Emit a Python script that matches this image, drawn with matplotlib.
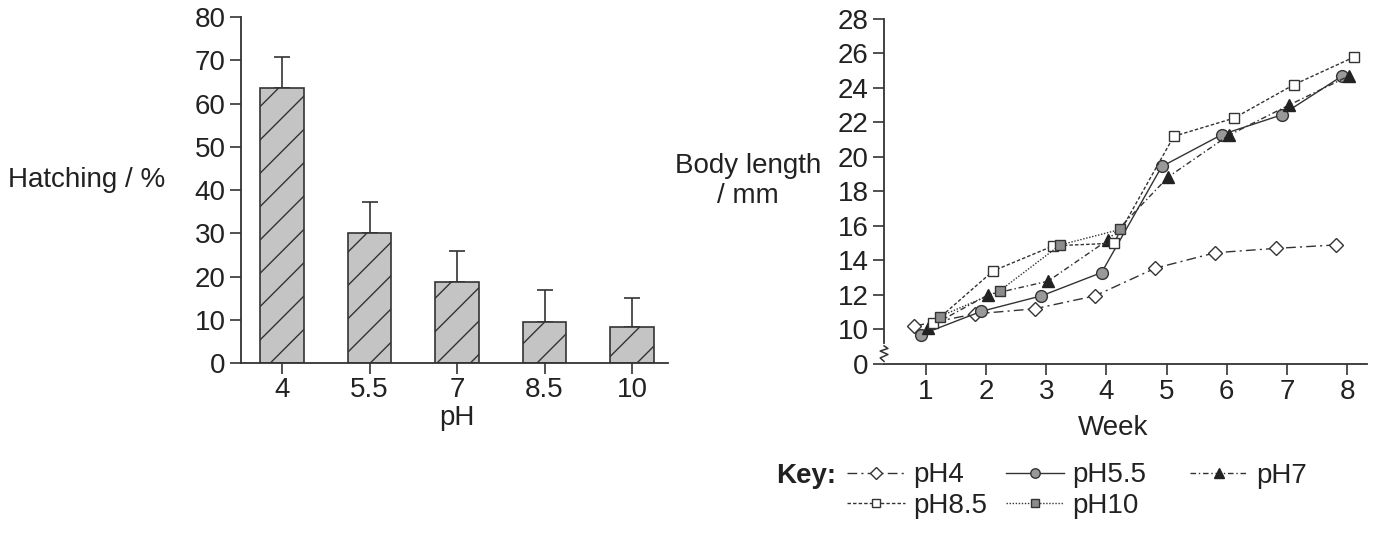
import matplotlib
matplotlib.use("Agg")
import matplotlib.pyplot as plt

plt.rcParams['font.family'] = ['Liberation Sans', 'DejaVu Sans']
plt.rcParams['hatch.linewidth'] = 1.0

# datos del grafico de barras
ph_labels = ["4", "5.5", "7", "8.5", "10"]
hatching = [63.5, 30, 18.7, 9.5, 8.3]
hatching_err = [7.3, 7.2, 7.3, 7.3, 6.7]

# datos del grafico de lineas
weeks = [1, 2, 3, 4, 5, 6, 7, 8]
weeks_ph10 = [1, 2, 3, 4]
len_ph4 = [10.2, 10.9, 11.2, 11.95, 13.55, 14.45, 14.7, 14.9]
len_ph55 = [9.7, 11.05, 11.95, 13.3, 19.45, 21.3, 22.45, 24.7]
len_ph7 = [10.1, 12.0, 12.8, 15.2, 18.85, 21.25, 23.0, 24.7]
len_ph85 = [10.35, 13.4, 14.85, 15.0, 21.2, 22.25, 24.2, 25.8]
len_ph10 = [10.75, 12.25, 14.9, 15.8]
y_ticks = [8, 10, 12, 14, 16, 18, 20, 22, 24, 26, 28]
y_tick_labels = ["0", "10", "12", "14", "16", "18", "20", "22", "24", "26", "28"]

ink = "#333333"
txt = "#222222"
fs = 20

fig = plt.figure(figsize=(13.85, 5.33), dpi=100)

# Grafico de barras
ax1 = fig.add_axes([0.1738, 0.3189, 0.3083, 0.6492])
pos = list(range(len(ph_labels)))
ax1.bar(pos, hatching, width=0.5, color="#c4c4c4", edgecolor=ink,
        linewidth=1.2, hatch="/", zorder=2)
ax1.errorbar(pos, hatching, yerr=[[0] * 5, hatching_err], fmt="none",
             ecolor=ink, elinewidth=1.2, capsize=6, capthick=1.2, zorder=1)
ax1.set_xlim(-0.472, 4.408)
ax1.set_ylim(0, 80)
ax1.set_yticks(range(0, 81, 10))
ax1.set_xticks(pos)
ax1.set_xticklabels(ph_labels)

# Grafico de lineas
ax2 = fig.add_axes([0.6383, 0.3171, 0.3487, 0.6473])
ln4, = ax2.plot([w - 0.19 for w in weeks], len_ph4, color=ink, lw=1,
                dashes=(7, 3, 1.5, 3), marker="D", ms=7.5, mfc="white",
                mec=ink, mew=1, zorder=3)
ln55, = ax2.plot([w - 0.08 for w in weeks], len_ph55, color=ink, lw=1,
                 ls="-", marker="o", ms=8.5, mfc="#999999", mec=ink,
                 mew=1, zorder=3)
ln7, = ax2.plot([w + 0.03 for w in weeks], len_ph7, color=ink, lw=1,
                dashes=(4, 2, 1, 2), marker="^", ms=8.5, mfc="#222222",
                mec="#222222", mew=1, zorder=3)
ln85, = ax2.plot([w + 0.12 for w in weeks], len_ph85, color=ink, lw=1,
                 dashes=(2.5, 1.5), marker="s", ms=7.5, mfc="white",
                 mec=ink, mew=1, zorder=3)
ln10, = ax2.plot([w + 0.23 for w in weeks_ph10], len_ph10, color=ink, lw=1,
                 dashes=(1, 1.2), marker="s", ms=7.5, mfc="#8c8c8c",
                 mec=ink, mew=1, zorder=4)
ax2.set_xlim(0.305, 8.33)
ax2.set_ylim(8, 28)
ax2.set_yticks(y_ticks)
ax2.set_yticklabels(y_tick_labels)
ax2.set_xticks(weeks)

# corte del eje y
brk = ax2.get_yaxis_transform()
ax2.plot([0, 0], [8.15, 9.05], transform=brk, color="white", lw=3,
         clip_on=False, zorder=5)
ax2.plot([0, -0.008, 0.008, -0.008, 0.008, 0],
         [8.15, 8.35, 8.55, 8.75, 8.9, 9.05], transform=brk, color=ink,
         lw=1.1, clip_on=False, zorder=6)

for ax in (ax1, ax2):
    ax.spines["top"].set_visible(False)
    ax.spines["right"].set_visible(False)
    for s in ("left", "bottom"):
        ax.spines[s].set_linewidth(1.3)
        ax.spines[s].set_color(ink)
    ax.tick_params(direction="out", length=8, width=1.2, color=ink,
                   labelsize=fs, labelcolor=txt, pad=3)
ax1.tick_params(axis="x", pad=2)

fig.text(8 / 1385, (533 - 180) / 533, "Hatching / %", fontsize=fs,
         color=txt, ha="left", va="center")
fig.text(748 / 1385, (533 - 181) / 533, "Body length\n/ mm", fontsize=fs,
         color=txt, ha="center", va="center", linespacing=1.2)
fig.text(457 / 1385, (533 - 418) / 533, "pH", fontsize=fs, color=txt,
         ha="center", va="center")
fig.text(1113 / 1385, (533 - 428) / 533, "Week", fontsize=fs, color=txt,
         ha="center", va="center")

# leyenda
fig.text(776 / 1385, (533 - 476) / 533, "Key:", fontsize=fs, color=txt,
         fontweight="bold", ha="left", va="center")
fig.legend([ln4, ln85, ln55, ln10], ["pH4", "pH8.5", "pH5.5", "pH10"],
           ncol=2, loc="center left",
           bbox_to_anchor=(847 / 1385, (533 - 490.5) / 533),
           frameon=False, fontsize=fs, numpoints=1, handlelength=2.1,
           handletextpad=0.3, columnspacing=0.65, labelspacing=0.15,
           borderpad=0, borderaxespad=0, labelcolor=txt, markerscale=0.8)
fig.legend([ln7], ["pH7"], loc="center left",
           bbox_to_anchor=(1190 / 1385, (533 - 476) / 533),
           frameon=False, fontsize=fs, numpoints=1, handlelength=2.1,
           handletextpad=0.3, borderpad=0, borderaxespad=0, labelcolor=txt,
           markerscale=0.8)

fig.savefig("out.png", dpi=100)
